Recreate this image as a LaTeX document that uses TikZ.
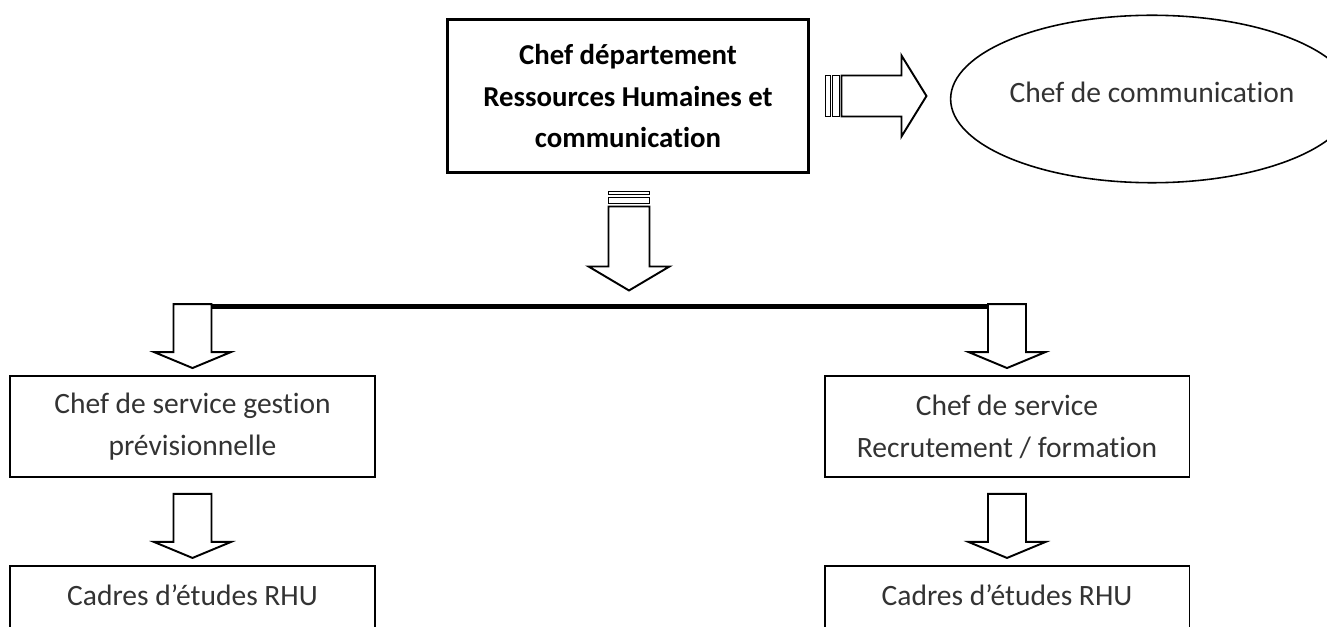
\documentclass[tikz,border=0pt]{standalone}
\usepackage{fontspec}
\setmainfont{Carlito}[Ligatures=NoCommon]
\usetikzlibrary{positioning,calc,shapes.geometric}

\tikzset{
  boite/.style={draw, line width=1.1pt, align=center, text=black!80,
    minimum width=7.3cm, minimum height=2.02cm, inner sep=0pt,
    font=\fontsize{16.8}{23.8}\selectfont},
  fleche/.style={draw, line width=1.1pt, fill=white},
  pics/grandbas/.style={code={
    \draw[fleche] (-20.5,0) rectangle (20.5,-3);
    \draw[fleche] (-20.5,-6) rectangle (20.5,-12);
    \draw[fleche] (-20.5,-15) -- (-20.5,-75) -- (-40.5,-75) -- (0,-99)
      -- (40.5,-75) -- (20.5,-75) -- (20.5,-15) -- cycle;
  }},
  pics/grandedroite/.style={code={
    \draw[fleche] (0,-20.5) rectangle (5,20.5);
    \draw[fleche] (7,-20.5) rectangle (14,20.5);
    \draw[fleche] (16,-20.5) -- (76,-20.5) -- (76,-40.5) -- (101,0)
      -- (76,40.5) -- (76,20.5) -- (16,20.5) -- cycle;
  }},
  pics/petitbas/.style={code={
    \draw[fleche] (-19,64) -- (-19,16) -- (-38.5,16) -- (0,0)
      -- (38.5,16) -- (19,16) -- (19,64) -- cycle;
  }},
}

\begin{document}
\begin{tikzpicture}[x=0.02cm, y=0.02cm]
 \useasboundingbox (0,0) rectangle (1327,626);
 \clip (0,0) rectangle (1327,626);

 % chef de departement et communication
 \node[draw, line width=1.7pt, align=center, minimum width=7.24cm, minimum height=3.08cm,
   font=\fontsize{16.4}{23.8}\selectfont\bfseries] (dept) at (628,530)
   {Chef département\\Ressources Humaines et\\communication};
 \node[draw, ellipse, line width=0.9pt, inner sep=0pt, minimum width=7.9cm, minimum height=3.35cm,
   text depth=0.26cm, text=black!80, font=\fontsize{16.8}{23.8}\selectfont] (comm) at (1152,527)
   {Chef de communication};

 % services
 \node[boite] (gest) at (192.5,199.5) {Chef de service gestion\\prévisionnelle};
 \node[boite] (recr) at (1007,199.5) {Chef de service\\Recrutement / formation};
 \node[boite, below=1.74cm of gest] (cad1) {Cadres d’études RHU\\~};
 \node[boite, below=1.74cm of recr] (cad2) {Cadres d’études RHU\\~};

 % fleches
 \pic at ($(dept.east)+(15,0)$) {grandedroite};
 \pic at ($(dept.south)+(1,-17)$) {grandbas};
 \coordinate (g) at ($(gest.north)+(19,68.5)$);
 \coordinate (r) at ($(recr.north)+(-19,68.5)$);
 \draw[line width=2.8pt] (g) -- (r);
 \pic at ($(gest.north)+(0,7)$) {petitbas};
 \pic at ($(recr.north)+(0,7)$) {petitbas};
 \pic at ($(cad1.north)+(0,7)$) {petitbas};
 \pic at ($(cad2.north)+(0,7)$) {petitbas};
\end{tikzpicture}
\end{document}
